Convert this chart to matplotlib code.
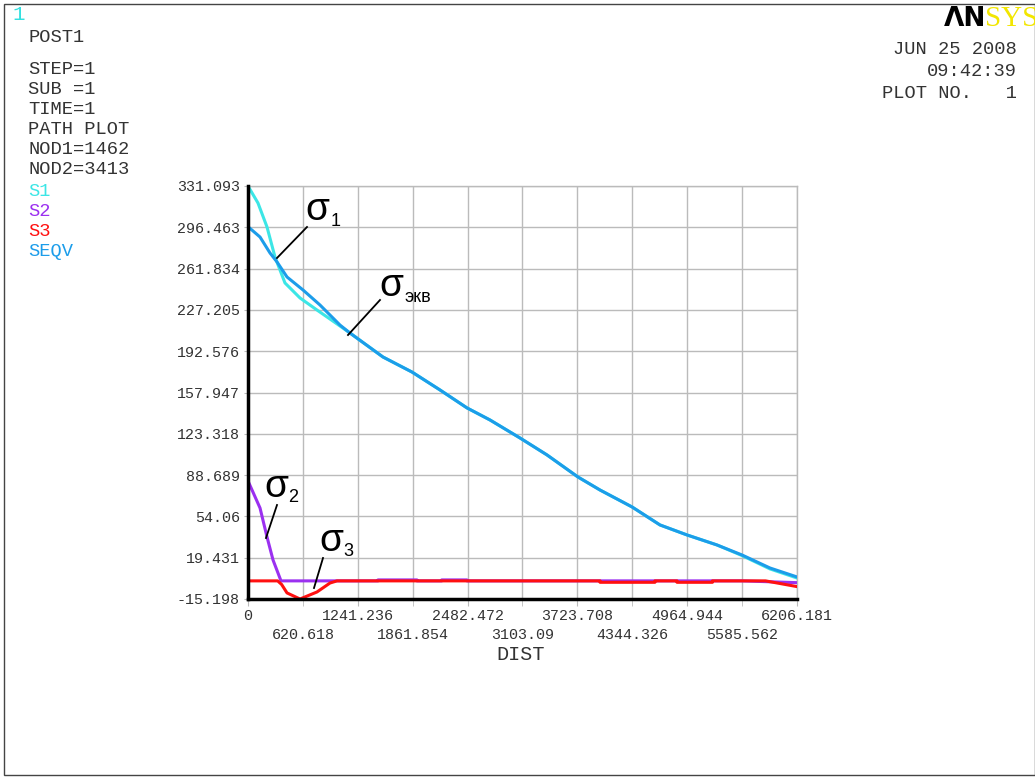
import matplotlib
matplotlib.use('Agg')
import matplotlib.pyplot as plt
from matplotlib.lines import Line2D
from matplotlib.patches import Rectangle

# path plot data
dist_seqv = [0, 136, 249, 328, 441, 622, 814, 1040, 1153, 1526, 1854, 2170, 2476,
             2736, 3075, 3380, 3730, 3979, 4341, 4657, 4963, 5302, 5585, 5901, 6206.181]
seqv = [297.0, 288.3, 274.9, 267.4, 254.8, 243.9, 231.3, 214.5, 207.8, 187.7, 175.1,
        160.1, 145.0, 134.9, 119.8, 105.6, 87.1, 76.2, 62.0, 46.9, 38.5, 30.1, 21.7, 10.8, 3.3]

dist_s1 = [0, 113, 215, 305, 418, 588, 780, 893, 1040, 1153, 1526, 1854, 2170, 2476,
           2736, 3075, 3380, 3730, 3979, 4341, 4657, 4963, 5302, 5585, 5901, 6206.181]
s1 = [331.093, 316.8, 296.7, 271.6, 249.8, 237.2, 227.1, 221.3, 213.7, 207.8, 187.7, 175.1,
      160.1, 145.0, 134.9, 119.8, 105.6, 87.1, 76.2, 62.0, 46.9, 38.5, 30.1, 21.2, 10.0, 2.4]

dist_s2 = [0, 136, 215, 283, 373, 1470, 1470, 1910, 1910, 2190, 2190, 2475, 2475, 5585, 6206.181]
s2 = [83.8, 61.1, 36.8, 17.5, 0, 0, 0.8, 0.8, 0, 0, 0.8, 0.8, 0, 0, -1.5]

dist_s3 = [0, 335, 380, 441, 588, 780, 927, 1006, 3980, 3980, 4600, 4600, 4850, 4850,
           5250, 5250, 5850, 6206.181]
s3 = [0, 0, -3.0, -10.1, -15.2, -9.3, -1.8, 0, 0, -1.2, -1.2, 0, 0, -1.2, -1.2, 0, 0, -4.8]

xtick_labels = ['0', '620.618', '1241.236', '1861.854', '2482.472', '3103.09',
                '3723.708', '4344.326', '4964.944', '5585.562', '6206.181']
ytick_labels = ['331.093', '296.463', '261.834', '227.205', '192.576', '157.947',
                '123.318', '88.689', '54.06', '19.431', '-15.198']

info_lines = ['STEP=1', 'SUB =1', 'TIME=1', 'PATH PLOT', 'NOD1=1462', 'NOD2=3413']
legend_names = ['S1', 'S2', 'S3', 'SEQV']

c_s1 = '#3CE6E6'
c_s2 = '#9B30F0'
c_s3 = '#FF1010'
c_seqv = '#1C9DEA'
legend_colors = [c_s1, c_s2, c_s3, c_seqv]

mono = 'Liberation Mono'
W, H = 1035, 778

fig = plt.figure(figsize=(W / 100, H / 100), dpi=100)
fig.patch.set_facecolor('white')


def fp(x, y):
    # pixel position -> figure fraction
    return x / W, 1 - y / H


# outer frame
fig.patches.append(Rectangle(fp(4, 775), (W - 4) / W, 771 / H, transform=fig.transFigure,
                             fill=False, edgecolor='#444444', linewidth=1))

ax = fig.add_axes([248 / W, 1 - 599 / H, (797 - 248) / W, (599 - 186) / H])
xt = [float(v) for v in xtick_labels]
yt = [float(v) for v in ytick_labels]

ax.plot(dist_s1, s1, color=c_s1, lw=2.2, zorder=3)
ax.plot(dist_s2, s2, color=c_s2, lw=2.2, zorder=3)
ax.plot(dist_s3, s3, color=c_s3, lw=2.2, zorder=4)
ax.plot(dist_seqv, seqv, color=c_seqv, lw=2.2, zorder=5)

ax.set_xlim(0, xt[-1])
ax.set_ylim(yt[-1], yt[0])

ax.set_xticks(xt[0::2])
ax.set_xticklabels(xtick_labels[0::2])
ax.set_xticks(xt[1::2], minor=True)
ax.set_xticklabels(xtick_labels[1::2], minor=True)
ax.set_yticks(yt)
ax.set_yticklabels(ytick_labels)

ax.tick_params(axis='x', which='major', length=5, color='#BBBBBB', pad=2,
               labelsize=10.8, labelcolor='#333333')
ax.tick_params(axis='x', which='minor', length=5, color='#BBBBBB', pad=16,
               labelsize=10.8, labelcolor='#333333')
ax.tick_params(axis='y', length=3, color='#BBBBBB', pad=3, labelsize=10.8, labelcolor='#333333')
for lab in ax.get_xticklabels(which='both') + ax.get_yticklabels():
    lab.set_fontfamily(mono)

ax.grid(True, which='both', color='#BBBBBB', lw=1.0)
ax.set_axisbelow(True)
for s in ['top', 'right']:
    ax.spines[s].set_color('#BBBBBB')
    ax.spines[s].set_linewidth(1.0)
for s in ['left', 'bottom']:
    ax.spines[s].set_color('black')
    ax.spines[s].set_linewidth(2.5)
    ax.spines[s].set_zorder(6)

fig.text(*fp(521, 654), 'DIST', family=mono, fontsize=14.5, color='#333333', ha='center', va='center')

# left text block
fig.text(*fp(12, 15), '1', family=mono, fontsize=15, color='#33E0E0', va='center')
fig.text(*fp(28, 38), 'POST1', family=mono, fontsize=13.5, color='#333333', va='center')
for i, t in enumerate(info_lines):
    fig.text(*fp(28, 70 + 20 * i), t, family=mono, fontsize=13.5, color='#333333', va='center')
for i, (t, c) in enumerate(zip(legend_names, legend_colors)):
    fig.text(*fp(28, 191 + 20.3 * i), t, family=mono, fontsize=13.5, color=c, va='center')

# top right block (logo is clipped at the right edge as in the original)
fig.text(*fp(986, 19), '\u039bN', family='DejaVu Sans', fontweight='bold', fontsize=19,
         color='black', ha='right', va='center')
fig.text(*fp(985, 19), 'SYS', family='Liberation Serif', fontsize=21,
         color='#F2E600', ha='left', va='center')
fig.text(*fp(1017, 50), 'JUN 25 2008', family=mono, fontsize=13.5, color='#333333', ha='right', va='center')
fig.text(*fp(1017, 72), '09:42:39', family=mono, fontsize=13.5, color='#333333', ha='right', va='center')
fig.text(*fp(1017, 93), 'PLOT NO.   1', family=mono, fontsize=13.5, color='#333333', ha='right', va='center')

# sigma labels with leader lines
sig = 'Liberation Sans'
labels = [
    ((317, 210), (336, 222), '1', ((307, 227), (277, 258))),
    ((391, 286), (418, 298), '\u044d\u043a\u0432', ((380, 300), (348, 335))),
    ((276, 487), (293, 498), '2', ((277, 505), (266, 538))),
    ((331, 541), (348, 552), '3', ((323, 558), (314, 588))),
]
for (sx, sy), (bx, by), sub, ((x0, y0), (x1, y1)) in labels:
    fig.text(*fp(sx, sy), '\u03c3', family=sig, fontsize=28, color='black', ha='center', va='center')
    fig.text(*fp(bx, by), sub, family=sig, fontsize=13, color='black', ha='center', va='center')
    a0, b0 = fp(x0, y0)
    a1, b1 = fp(x1, y1)
    fig.lines.append(Line2D([a0, a1], [b0, b1], transform=fig.transFigure, color='black', lw=1.3, zorder=10))

fig.savefig('out.png', dpi=100)
